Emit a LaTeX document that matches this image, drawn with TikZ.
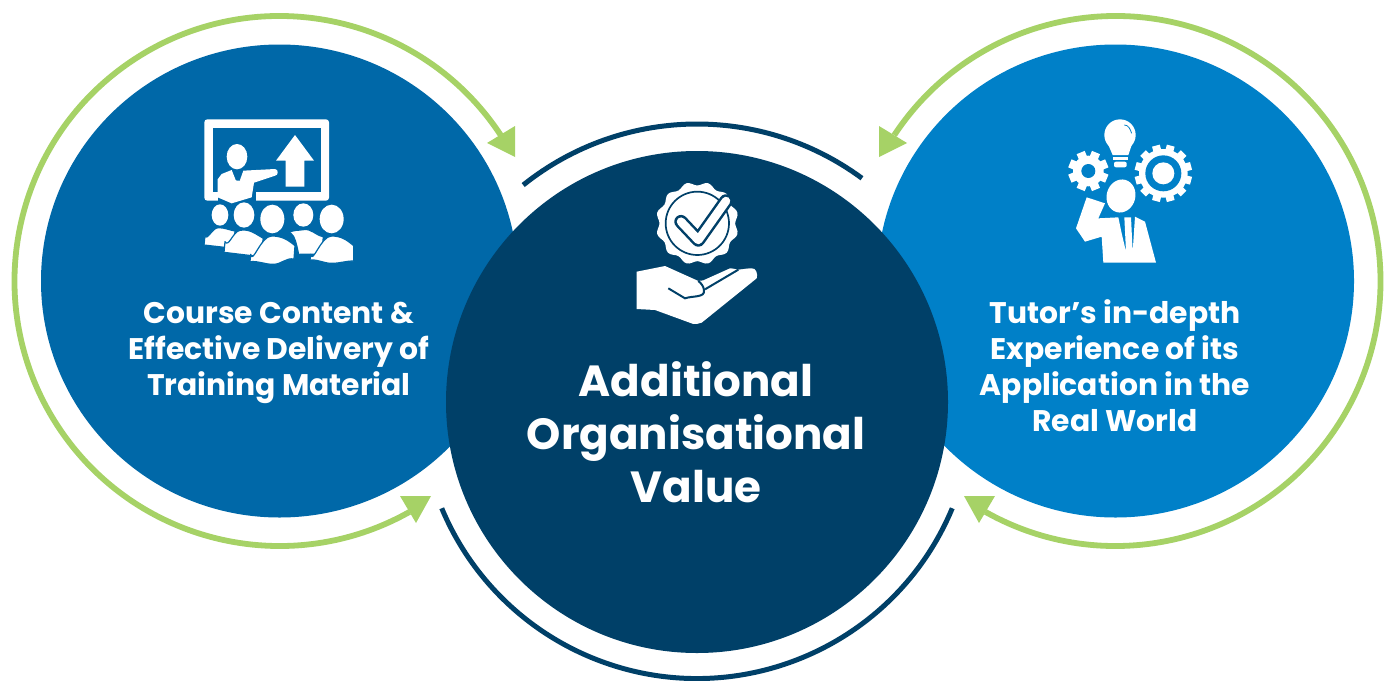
\documentclass[tikz,border=0pt]{standalone}
\usepackage{fontspec}
\setmainfont{Poppins}
\usetikzlibrary{shapes.geometric}
\definecolor{cleft}{HTML}{0068A8}
\definecolor{cmid}{HTML}{004068}
\definecolor{cright}{HTML}{0080C8}
\definecolor{cgreen}{HTML}{A6D266}
\tikzset{
  disc/.style={circle,inner sep=0pt,outer sep=0pt,minimum size=#1},
  sidedisc/.style={ellipse,inner sep=0pt,outer sep=0pt,minimum width=477pt,minimum height=473pt},
  side/.style={text=white,align=center,font=\fontsize{29.8}{36}\selectfont\bfseries,inner sep=0pt},
  mid/.style={text=white,align=center,font=\fontsize{43.6}{53}\selectfont\bfseries,inner sep=0pt},
  garc/.style={draw=cgreen,line width=5.8pt},
  darc/.style={draw=cmid,line width=5pt},
  tipg/.style={fill=cgreen},
  ico/.style={fill=white,draw=none},
  body/.style={fill=white,draw=cleft,line width=1.2pt,line join=round},
  zoomed/.style={shift={#1},x=0.33333pt,y=-0.33333pt}
}
\begin{document}
\begin{tikzpicture}[x=1pt,y=-1pt]
\useasboundingbox (0,0) rectangle (1392,680);
\fill[white] (0,0) rectangle (1392,680);
% discs
\node[sidedisc,fill=cleft] (L) at (279.5,281) {};
\node[sidedisc,fill=cright] (R) at (1115.5,281) {};
\node[disc=502pt,fill=cmid] (C) at (697,402) {};
% green arcs
\draw[garc] (L) ++(-33.4:265) arc[start angle=-33.4,end angle=-299.4,radius=265];
\draw[garc] (R) ++(213.4:265) arc[start angle=213.4,end angle=479.4,radius=265];
\fill[tipg] (515,157)--(515,126)--(487,143)--cycle;
\fill[tipg] (431,496)--(400,496)--(416,523)--cycle;
\fill[tipg] (879,157)--(879,126)--(907,143)--cycle;
\fill[tipg] (964,496)--(995,496)--(979,523)--cycle;
% dark arcs
\draw[darc] (C) ++(231.3:278) arc[start angle=231.3,end angle=306.4,radius=278];
\draw[darc] (C) ++(22.6:276.5) arc[start angle=22.6,end angle=157.4,radius=276.5];
% text
\node[side] (tl) at (279,353) {Course Content \&\\Effective Delivery of\\Training Material};
\node[side] (tr) at (1115,366) {Tutor’s in-depth\\Experience of its\\Application in the\\Real World};
\node[mid] (tc) at (696,432) {Additional\\Organisational\\Value};
% icon left
\begin{scope}[zoomed={(190,110)}]
  \fill[white,rounded corners=3pt] (43,28) rectangle (417,272);
  \fill[cleft] (68,55) rectangle (392,245);
  \fill[cleft] (85,240) rectangle (197,275);
  \fill[ico] (315,75)--(372,152)--(343,152)--(343,230)--(287,230)--(287,152)--(258,152)--cycle;
  \fill[ico] (141,140) ellipse [x radius=31,y radius=38];
  \fill[ico] (83,262)--(83,208)--(95,192)--(125,180)--(137,210)--(150,210)--(160,182)--(255,177)
     to[out=0,in=0,looseness=1.4] (255,197)--(192,218)--(185,262)--(125,280)--cycle;
  \fill[cleft] (135,185)--(150,185)--(146,195)--(150,212)--(139,212)--(142,195)--cycle;
\end{scope}
\begin{scope}[zoomed={(200,195)}]
  \path[body] (12,150) -- (15,122) to[out=-70,in=180] (55,98) to[out=0,in=170] (105,108) -- (100,160) -- cycle;
  \path[body] (72,172) -- (75,140) to[out=-60,in=190] (120,106) to[out=10,in=150] (190,130) -- (180,185) -- cycle;
  \path[body] (150,200) -- (152,178) to[out=-80,in=180] (215,123) to[out=0,in=140] (285,152) -- (282,192) to[out=170,in=0] (220,208) to[out=180,in=5] cycle;
  \path[body] (300,178) to[out=-100,in=20] (265,115) to[out=40,in=190] (310,104) to[out=10,in=170] (370,125) -- (365,178) -- cycle;
  \path[body] (330,195) -- (332,178) to[out=-80,in=180] (395,123) to[out=0,in=140] (461,152) -- (461,198) to[out=180,in=0] (395,205) to[out=180,in=5] cycle;
  \foreach \x/\y/\a/\b in {60/60/25/32,132/60/31/38,217/72/36/43,310/60/30/35,395/72/36/43}
    \fill[ico,rounded corners=10pt] (\x,\y) ellipse [x radius=\a,y radius=\b];
\end{scope}
% icon centre
\begin{scope}[zoomed={(620,175)}]
  \fill[ico] plot[smooth cycle,samples=96,domain=0:356.25] ({232+(119-5.5*cos(12*\x))*cos(\x)},{145+(119-5.5*cos(12*\x))*sin(\x)});
  \draw[cmid,line width=1.7pt] (232,145) circle [radius=95];
  \draw[cmid,line width=13.5pt,line cap=round,line join=round] (183,140)--(235,195)--(318,78);
  \draw[white,line width=8.5pt,line cap=round,line join=round] (183,140)--(235,195)--(318,78);
\end{scope}
\begin{scope}[zoomed={(630,255)}]
  \path[ico] (20,50) -- (105,33) -- (205,78) -- (220,76) -- (300,40) -- (365,40) to[out=10,in=70] (380,70)
     -- (215,203) to[out=200,in=0] (190,207) -- (75,165) -- (20,162) -- cycle;
  \draw[cmid,line width=2pt] (115,100) -- (165,130) to[out=20,in=-80] (222,105) to[out=100,in=-40] (205,78);
  \draw[cmid,line width=2pt] (225,103) -- (325,44);
  \fill[cmid] (300,38) -- (325,44) -- (365,38) -- cycle;
\end{scope}
% icon right
\begin{scope}[zoomed={(1060,110)}]
  \fill[ico] (180,75) circle [radius=47];
  \fill[ico] (145,105)--(215,105)--(205,135)--(158,135)--cycle;
  \fill[ico] (159,141) rectangle (204,150);
  \fill[ico,rounded corners=2pt] (162,155) rectangle (200,172);
  \draw[cright,line width=0.8pt] (193,45) to[out=0,in=110] (215,70);
  \begin{scope}[shift={(85,183)}]
    \foreach \a in {0,45,...,315}
      \fill[ico,rotate=\a+22.5] (-13,-60) rectangle (13,0);
    \fill[ico] (0,0) circle [radius=46];
    \fill[cright] (0,0) circle [radius=21];
  \end{scope}
  \begin{scope}[shift={(310,190)}]
    \foreach \a in {0,30,...,330}
      \fill[ico,rotate=\a+15] (-12,-86) rectangle (12,0);
    \fill[ico] (0,0) circle [radius=73];
    \fill[cright] (0,0) circle [radius=54];
    \fill[ico] (0,0) circle [radius=33];
  \end{scope}
  \fill[cright,rotate around={-15:(183,258)}] (183,258) ellipse [x radius=50,y radius=57];
  \fill[ico,rotate around={-15:(183,258)}] (183,258) ellipse [x radius=43,y radius=50];
  \fill[ico] (48,355)--(80,262)--(135,280)--(115,325)--(175,322)--(185,370)--(198,425)--(193,322)--(213,322)--(218,425)--(225,320)--(255,335)--(288,458)--(130,458)--(125,380)--(75,395)--cycle;
\end{scope}
\end{tikzpicture}
\end{document}
